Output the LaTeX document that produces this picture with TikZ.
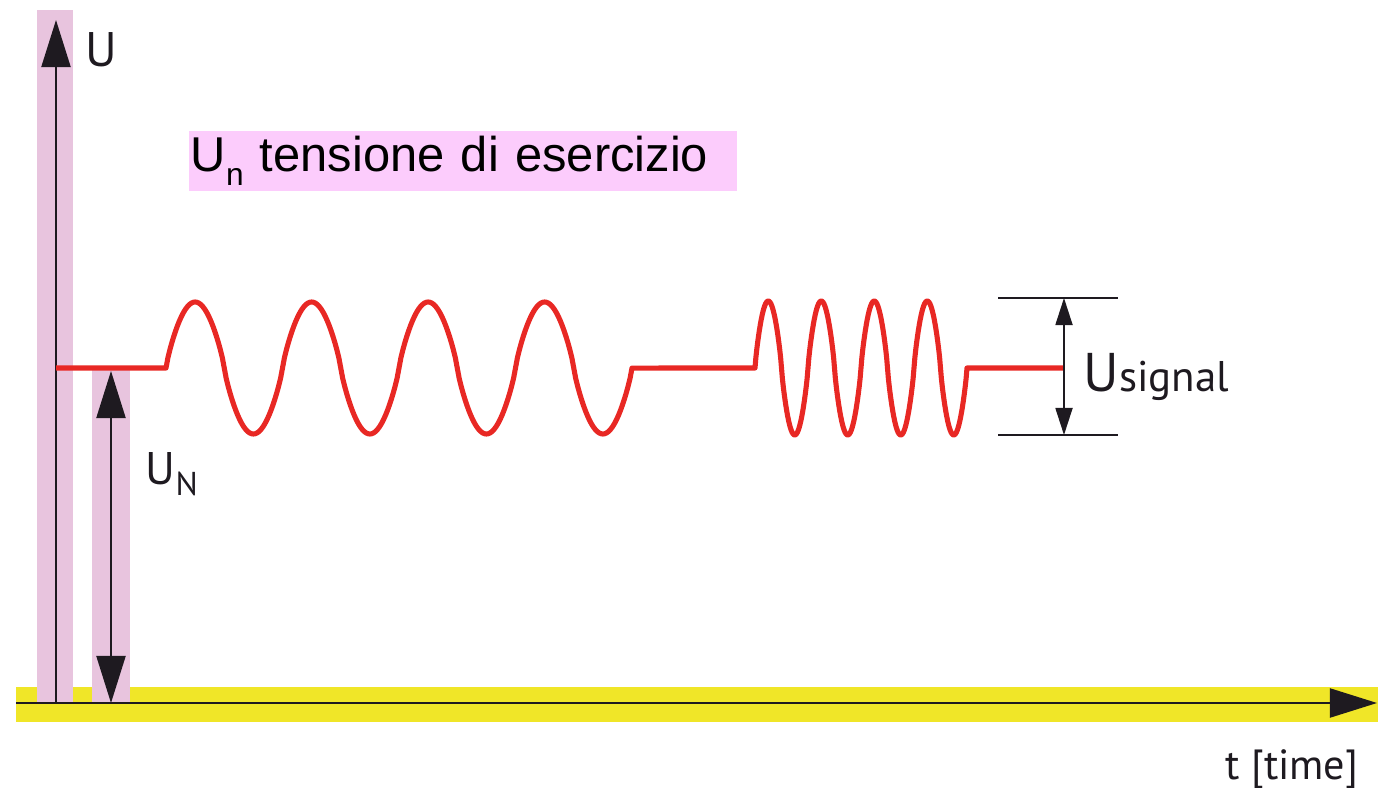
\documentclass[tikz,border=0pt]{standalone}
\usepackage{fontspec}
\usetikzlibrary{arrows.meta}
\newfontfamily\myriad{PT Sans}
\newfontfamily\arial{Liberation Sans}
\definecolor{bandpink}{RGB}{232,196,222}
\definecolor{labelpink}{RGB}{252,204,252}
\definecolor{bandyellow}{RGB}{240,230,40}
\definecolor{sigred}{RGB}{232,40,36}
\definecolor{ink}{RGB}{30,26,32}
\begin{document}
\begin{tikzpicture}[x=0.01cm,y=-0.01cm,
    axis/.style={draw=ink,line width=0.6pt,-{Triangle[length=0.47cm,width=0.29cm]}},
    dim/.style={draw=ink,line width=0.6pt,{Triangle[length=0.47cm,width=0.29cm]}-{Triangle[length=0.47cm,width=0.29cm]}},
    smalldim/.style={draw=ink,line width=0.5pt,{Triangle[length=0.27cm,width=0.17cm]}-{Triangle[length=0.27cm,width=0.17cm]}},
    lab/.style={inner sep=0pt,anchor=base west,text=ink,font=\myriad}]
    \useasboundingbox (0,0) rectangle (1384,788);
    % bands
    \fill[bandyellow] (16,687) rectangle (1378,722);
    \fill[bandpink] (37,10) rectangle (73,703);
    \fill[bandpink] (92,370) rectangle (130,703);
    % label box
    \node[fill=labelpink,anchor=north west,inner xsep=0.02cm,inner ysep=0pt,
          text width=5.44cm,minimum height=0.6cm,align=left,
          font=\arial\fontsize{13.9}{16}\selectfont] (lbl) at (188,130)
          {U\raisebox{-0.55ex}{\fontsize{9}{10}\selectfont n} tensione di esercizio};
    % axes
    \coordinate (O) at (56,703);
    \coordinate (ytop) at (56,20);
    \coordinate (xstart) at (16,703);
    \coordinate (xend) at (1377,703);
    \draw[axis] (O) -- (ytop);
    \draw[axis] (xstart) -- (xend);
    \node[lab,font=\myriad\fontsize{13.8}{16}\selectfont] (ulab) at (85,67) {U};
    \node[lab,font=\myriad\fontsize{12}{14}\selectfont] (tlab) at (1225,779) {t [time]};
    % nominal voltage
    \coordinate (un1) at (111,371);
    \coordinate (un0) at (111,703);
    \draw[dim] (un1) -- (un0);
    \node[lab,font=\myriad\fontsize{13}{16}\selectfont] (unlab) at (145,485) {U\raisebox{-0.45ex}{\fontsize{9.4}{10}\selectfont N}};
    % signal
    \draw[sigred,line width=1.45pt,line join=round]
        (56,368) -- (166,368)
        -- plot[domain=166:632,samples=241] (\x,{368-66*sign(sin(3.0901*(\x-166)))*abs(sin(3.0901*(\x-166)))^0.82})
        -- (755,368)
        -- plot[domain=755:967,samples=241] (\x,{368-67*sign(sin(6.7925*(\x-755)))*abs(sin(6.7925*(\x-755)))^0.82})
        -- (1064,368);
    % signal amplitude
    \coordinate (st) at (1064,298);
    \coordinate (sb) at (1064,435);
    \draw[ink,line width=0.45pt] (998,298) -- (1118,298);
    \draw[ink,line width=0.45pt] (998,435) -- (1118,435);
    \draw[smalldim] (st) -- (sb);
    \node[lab,font=\myriad\fontsize{15.5}{18}\selectfont] (uslab) at (1083,392) {U{\fontsize{12.2}{14}\selectfont signal}};
\end{tikzpicture}
\end{document}
